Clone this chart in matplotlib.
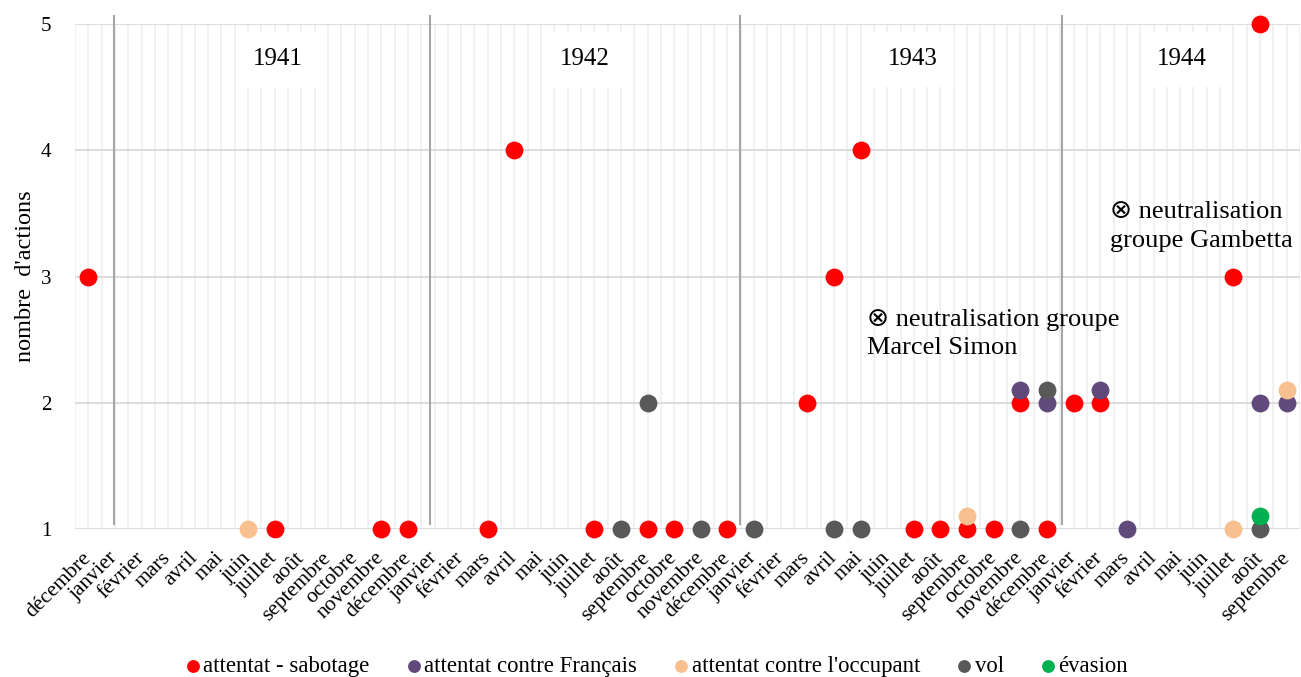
import matplotlib
matplotlib.use("Agg")
import matplotlib.pyplot as plt

plt.rcParams["font.family"] = ["Liberation Serif", "DejaVu Serif"]

# Month categories: décembre 1940 -> septembre 1944
month_names = ["janvier", "février", "mars", "avril", "mai", "juin", "juillet",
               "août", "septembre", "octobre", "novembre", "décembre"]
month_keys = ["1940-12"]
month_labels = ["décembre"]
for year in [1941, 1942, 1943, 1944]:
    last = 9 if year == 1944 else 12
    for m in range(1, last + 1):
        month_keys.append(f"{year}-{m:02d}")
        month_labels.append(month_names[m - 1])

# Series (month key, number of actions; 0.1 offsets keep overlapping dots visible)
sabotage_x = ["1940-12", "1941-07", "1941-11", "1941-12", "1942-03", "1942-04",
              "1942-07", "1942-09", "1942-10", "1942-12", "1943-03", "1943-04",
              "1943-05", "1943-07", "1943-08", "1943-09", "1943-10", "1943-11",
              "1943-12", "1944-01", "1944-02", "1944-07", "1944-08"]
sabotage_y = [3, 1, 1, 1, 1, 4, 1, 1, 1, 1, 2, 3, 4, 1, 1, 1, 1, 2, 1, 2, 2, 3, 5]

francais_x = ["1943-11", "1943-12", "1944-02", "1944-03", "1944-08", "1944-09"]
francais_y = [2.1, 2, 2.1, 1, 2, 2]

occupant_x = ["1941-06", "1943-09", "1944-07", "1944-09"]
occupant_y = [1, 1.1, 1, 2.1]

vol_x = ["1942-08", "1942-09", "1942-11", "1943-01", "1943-04", "1943-05",
         "1943-11", "1943-12", "1944-08"]
vol_y = [1, 2, 1, 1, 1, 1, 1, 2.1, 1]

evasion_x = ["1944-08"]
evasion_y = [1.1]

series = [
    ("attentat - sabotage", sabotage_x, sabotage_y, "#ff0000"),
    ("attentat contre Français", francais_x, francais_y, "#604a7b"),
    ("attentat contre l'occupant", occupant_x, occupant_y, "#f9c08f"),
    ("vol", vol_x, vol_y, "#595959"),
    ("évasion", evasion_x, evasion_y, "#00b050"),
]

# Year separators and labels
year_labels = ["1941", "1942", "1943", "1944"]
year_label_pos = [7.13, 18.65, 30.96, 41.06]
separator_pos = [0.95, 12.84, 24.47, 36.57]

fig = plt.figure(figsize=(13.01, 6.77), dpi=100)
ax = fig.add_axes([75 / 1301, 1 - 529 / 677, 1225 / 1301, 505 / 677])

pos = {k: i for i, k in enumerate(month_keys)}
handles = []
for i, (label, xs, ys, color) in enumerate(series):
    h = ax.scatter([pos[k] for k in xs], ys, s=165, color=color, linewidths=0,
                   zorder=3 + i, clip_on=False, label=label)
    handles.append(h)

ax.set_xlim(-0.5, len(month_keys) - 0.5)
ax.set_ylim(1, 5)
ax.set_yticks([1, 2, 3, 4, 5])
ax.set_xticks(range(len(month_keys)))
ax.set_xticklabels(month_labels, rotation=45, ha="right", va="center",
                   rotation_mode="anchor", fontsize=15.5)
ax.tick_params(axis="x", length=0, pad=19)
ax.tick_params(axis="y", length=0, pad=17, labelsize=15)
ax.set_ylabel("nombre  d'actions", fontsize=17.5)
ax.yaxis.set_label_coords(-0.032, 0.5)

for s in ax.spines.values():
    s.set_visible(False)

# gridlines
for yv in [1, 2, 3, 4, 5]:
    ax.axhline(yv, color="#d9d9d9", lw=1.3, zorder=0.5)
for k in range(2 * len(month_keys) + 1):
    ax.axvline(-0.5 + 0.5 * k, color="#efefef", lw=1.2, zorder=0.4)

for xv in separator_pos:
    ax.plot([xv, xv], [1.04, 5.065], color="#a6a6a6", lw=1.5, zorder=2,
            clip_on=False)

for txt, xv in zip(year_labels, year_label_pos):
    ax.text(xv, 4.72, txt, ha="center", va="center", fontsize=18, zorder=1,
            bbox=dict(boxstyle="square,pad=0.65", facecolor="white",
                      edgecolor="none"))

ax.text(29.24, 2.745, "⊗ neutralisation groupe\nMarcel Simon", ha="left",
        va="top", fontsize=19, zorder=10, linespacing=1.4,
        family=["Liberation Serif", "DejaVu Sans"])
ax.text(38.36, 3.60, "⊗ neutralisation\ngroupe Gambetta", ha="left",
        va="top", fontsize=19, zorder=10, linespacing=1.4,
        family=["Liberation Serif", "DejaVu Sans"])

fig.legend(handles=handles, loc="center", bbox_to_anchor=(0.505, 0.016),
           ncol=5, frameon=False, fontsize=16.4, markerscale=0.72,
           handlelength=0.6, handletextpad=0.15, columnspacing=1.65)

fig.savefig("out.png", dpi=100)
plt.close(fig)
